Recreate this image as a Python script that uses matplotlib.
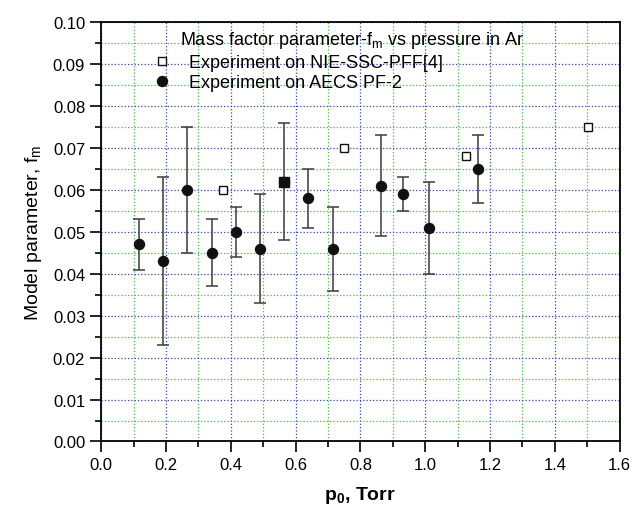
import numpy as np
import matplotlib.pyplot as plt
from matplotlib.ticker import MultipleLocator

plt.rcParams['font.family'] = ['Liberation Sans', 'DejaVu Sans']
plt.rcParams['mathtext.default'] = 'regular'

# AECS PF-2 measurements (pressure in Torr, f_m, error bar low/high)
p_aecs = [0.116, 0.190, 0.265, 0.342, 0.415, 0.491, 0.564, 0.638, 0.714, 0.864, 0.931, 1.013, 1.163]
fm_aecs = [0.047, 0.043, 0.060, 0.045, 0.050, 0.046, 0.062, 0.058, 0.046, 0.061, 0.059, 0.051, 0.065]
fm_low = [0.041, 0.023, 0.045, 0.037, 0.044, 0.033, 0.048, 0.051, 0.036, 0.049, 0.055, 0.040, 0.057]
fm_high = [0.053, 0.063, 0.075, 0.053, 0.056, 0.059, 0.076, 0.065, 0.056, 0.073, 0.063, 0.062, 0.073]

# NIE-SSC-PFF [4]
p_nie = [0.376, 0.564, 0.750, 1.126, 1.503]
fm_nie = [0.060, 0.062, 0.070, 0.068, 0.075]

fig = plt.figure(figsize=(6.32, 5.10), dpi=100)
ax = fig.add_axes([0.160, 0.1324, 0.8205, 0.8219])

fm_aecs = np.array(fm_aecs)
yerr = [fm_aecs - np.array(fm_low), np.array(fm_high) - fm_aecs]
ax.errorbar(p_aecs, fm_aecs, yerr=yerr, fmt='none', ecolor='#3a3a3a',
            elinewidth=1.1, capsize=4, capthick=1.1, zorder=3)
ax.plot(p_aecs, fm_aecs, 'o', color='#111111', ms=7.2, zorder=4,
        label='Experiment on AECS PF-2')
ax.plot(p_nie, fm_nie, 's', mfc='white', mec='#111111', mew=1.0, ms=6, zorder=5,
        label='Experiment on NIE-SSC-PFF[4]')
# the overlapping point looks filled in the original
ax.plot(p_nie[1], fm_nie[1], 's', color='#111111', ms=7, zorder=6)

ax.set_xlim(0, 1.6)
ax.set_ylim(0, 0.10)
ax.xaxis.set_major_locator(MultipleLocator(0.2))
ax.xaxis.set_minor_locator(MultipleLocator(0.1))
ax.yaxis.set_major_locator(MultipleLocator(0.01))
ax.yaxis.set_minor_locator(MultipleLocator(0.005))
ax.xaxis.set_major_formatter(plt.FormatStrFormatter('%.1f'))
ax.yaxis.set_major_formatter(plt.FormatStrFormatter('%.2f'))

ax.grid(which='major', color='#3344bb', linestyle=':', linewidth=0.9)
ax.grid(which='minor', color='#44bb44', linestyle=':', linewidth=0.9)
ax.set_axisbelow(True)

ax.tick_params(which='major', direction='out', length=8, width=1.2, labelsize=12)
ax.tick_params(which='minor', direction='out', length=4, width=1.2)
for s in ax.spines.values():
    s.set_linewidth(1.3)

ax.set_xlabel(r'p$_0$, Torr', fontsize=14, fontweight='bold', labelpad=8)
ax.set_ylabel(r'Model parameter, f$_m$', fontsize=14, labelpad=6)

ax.text(0.152, 0.985, r'Mass factor parameter-f$_m$ vs pressure in Ar', transform=ax.transAxes,
        fontsize=13, va='top', ha='left')
handles, labels = ax.get_legend_handles_labels()
ax.legend(handles[::-1][:2], labels[::-1][:2], loc='upper left', bbox_to_anchor=(0.069, 0.942),
          frameon=False, fontsize=13, handletextpad=0.5, labelspacing=0.2, borderaxespad=0)

fig.savefig('out.png', dpi=100)
